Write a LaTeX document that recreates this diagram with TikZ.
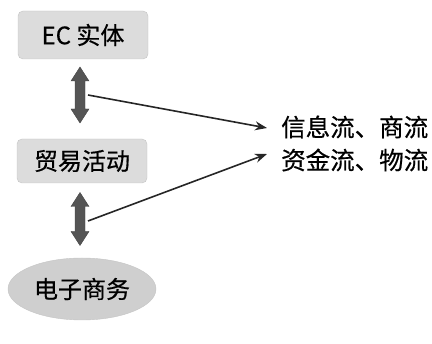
\documentclass[tikz,border=0pt]{standalone}
\usepackage{fontspec}
\setmainfont{Noto Sans CJK SC}[FakeBold=0.6]
\usetikzlibrary{shapes.geometric,arrows.meta,calc}
\definecolor{boxfill}{HTML}{DCDCDC}
\definecolor{boxline}{HTML}{C4C4C4}
\definecolor{arrowfill}{HTML}{555555}
\tikzset{
  boxnode/.style={draw=boxline, fill=boxfill, rounded corners=5pt, minimum width=130pt, minimum height=48pt, font=\fontsize{24}{28}\selectfont, inner sep=0pt},
  ellnode/.style={ellipse, draw=boxline, fill=boxfill!94!black, minimum width=148pt, minimum height=62pt, font=\fontsize{24}{28}\selectfont, inner sep=0pt},
  bigdarrow/.style={fill=arrowfill, draw=arrowfill!80!black, line width=0.4pt},
  flowline/.style={draw=black!85, line width=1.6pt, -{Stealth[length=12pt,width=9pt]}},
  flowtext/.style={font=\fontsize{24.5}{28}\selectfont, anchor=west, inner sep=0pt}
}
\newcommand\mydblarrow[2]{%
  \path[bigdarrow] ($(#1)+(0,-#2)$) -- ++(9,14) -- ++(-4,0) -- ($(#1)+(5,#2-14)$) -- ++(4,0) -- ($(#1)+(0,#2)$) -- ++(-9,-14) -- ++(4,0) -- ($(#1)+(-5,-#2+14)$) -- ++(-4,0) -- cycle;}
\begin{document}
\begin{tikzpicture}[x=1pt,y=-1pt]
\useasboundingbox (0,0) rectangle (432,344);
\node[boxnode] (ec) at (83,35) {EC 实体};
\node[boxnode, minimum height=44pt] (trade) at (82,161) {贸易活动};
\node[ellnode] (ecom) at (82,289) {电子商务};
\coordinate (da1) at (80,95);
\coordinate (da2) at (80,219);
\mydblarrow{da1}{28}
\mydblarrow{da2}{26.5}
\node[flowtext] (t1) at (281,127) {信息流、商流};
\node[flowtext] (t2) at (281,160) {资金流、物流};
\coordinate (s1) at ($(da1)+(8,0)$);
\coordinate (s2) at ($(da2)+(8,2)$);
\coordinate (e1) at ($(t1.west)+(-14,1)$);
\coordinate (e2) at ($(t2.west)+(-14,-6)$);
\draw[flowline] (s1) -- (e1);
\draw[flowline] (s2) -- (e2);
\end{tikzpicture}
\end{document}
